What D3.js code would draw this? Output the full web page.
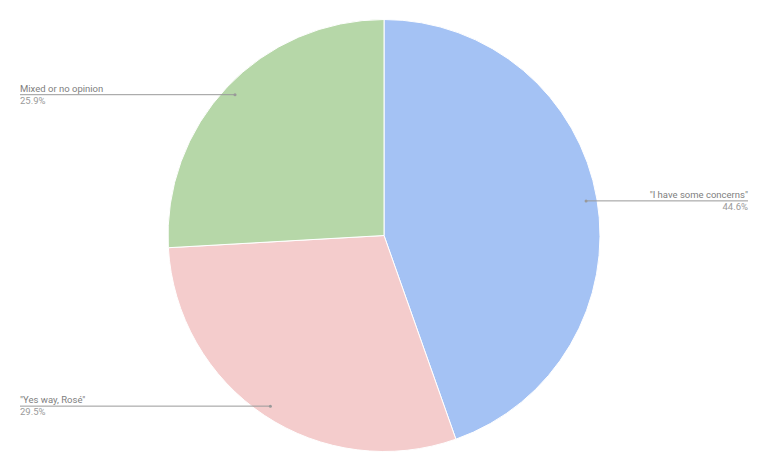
<!DOCTYPE html>
<html>
<head>
<meta charset="utf-8">
<script src="https://cdn.jsdelivr.net/npm/d3@7"></script>
<style>
  body { margin: 0; background: #fff; }
  text { font-family: Roboto, "Noto Sans", sans-serif; }
</style>
</head>
<body>
<svg id="chart"></svg>
<script>
const labels = ["\"I have some concerns\"", "\"Yes way, Ros\u00e9\"", "Mixed or no opinion"];
const values = [44.6, 29.5, 25.9];
const colors = ["#a4c2f4", "#f4cccc", "#b6d7a8"];

const width = 765, height = 471;
const cx = 384, cy = 235.5, r = 216;

const svg = d3.select("#chart")
  .attr("width", width)
  .attr("height", height)
  .attr("viewBox", [0, 0, width, height]);

const pie = d3.pie().sort(null).value(d => d.v);
const data = labels.map((l, i) => ({ l, v: values[i], c: colors[i] }));
const arcs = pie(data);

const arc = d3.arc().innerRadius(0).outerRadius(r);
const inner = d3.arc().innerRadius(205).outerRadius(205);

const g = svg.append("g").attr("transform", `translate(${cx},${cy})`);

g.selectAll("path")
  .data(arcs)
  .join("path")
  .attr("fill", d => d.data.c)
  .attr("stroke", "#fff")
  .attr("stroke-width", 1)
  .attr("d", arc);

// leader lines + labels
const lab = g.append("g").selectAll("g").data(arcs).join("g");

lab.each(function(d) {
  const [px, py] = inner.centroid(d);
  const mid = (d.startAngle + d.endAngle) / 2;
  const right = mid < Math.PI;
  const ex = right ? (748 - cx) : (20 - cx);
  const sel = d3.select(this);
  sel.append("line")
    .attr("x1", px).attr("y1", py)
    .attr("x2", ex).attr("y2", py)
    .attr("stroke", "#999")
    .attr("stroke-width", 1);
  sel.append("circle")
    .attr("cx", px).attr("cy", py).attr("r", 1.5)
    .attr("fill", "#999");
  sel.append("text")
    .attr("x", ex).attr("y", py - 3)
    .attr("text-anchor", right ? "end" : "start")
    .attr("font-size", 9.5)
    .attr("fill", "#808080")
    .text(d.data.l);
  sel.append("text")
    .attr("x", ex).attr("y", py + 9)
    .attr("text-anchor", right ? "end" : "start")
    .attr("font-size", 9.5)
    .attr("fill", "#9a9a9a")
    .text(d.data.v.toFixed(1) + "%");
});
</script>
</body>
</html>
